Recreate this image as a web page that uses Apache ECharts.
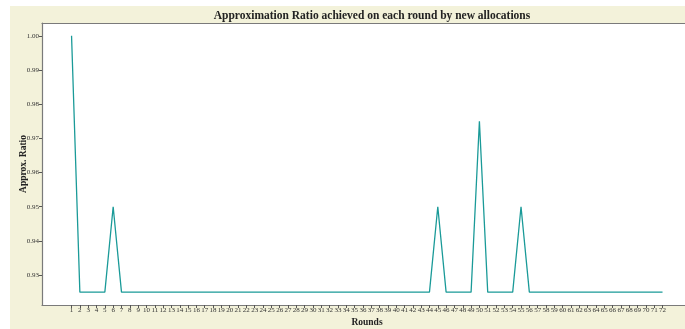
<!DOCTYPE html>
<html>
<head>
<meta charset="utf-8">
<script src="https://cdn.jsdelivr.net/npm/echarts@6/dist/echarts.min.js"></script>
<style>
html,body{margin:0;padding:0;background:#fff;}
#c{width:685px;height:329px;}
</style>
</head>
<body>
<div id="c"></div>
<script>
const rounds = Array.from({length: 72}, (_, i) => i + 1);
const ratios = [
  1.000, 0.925, 0.925, 0.925, 0.925, 0.950, 0.925, 0.925, 0.925, 0.925,
  0.925, 0.925, 0.925, 0.925, 0.925, 0.925, 0.925, 0.925, 0.925, 0.925,
  0.925, 0.925, 0.925, 0.925, 0.925, 0.925, 0.925, 0.925, 0.925, 0.925,
  0.925, 0.925, 0.925, 0.925, 0.925, 0.925, 0.925, 0.925, 0.925, 0.925,
  0.925, 0.925, 0.925, 0.925, 0.950, 0.925, 0.925, 0.925, 0.925, 0.975,
  0.925, 0.925, 0.925, 0.925, 0.950, 0.925, 0.925, 0.925, 0.925, 0.925,
  0.925, 0.925, 0.925, 0.925, 0.925, 0.925, 0.925, 0.925, 0.925, 0.925,
  0.925, 0.925
];
const yTicks = [0.93, 0.94, 0.95, 0.96, 0.97, 0.98, 0.99, 1.00];
const titleText = 'Approximation Ratio achieved on each round by new allocations';

const serif = "'Liberation Serif', 'DejaVu Serif', serif";
const xMin = -2.55, xMax = 74.7;
const chart = echarts.init(document.getElementById('c'), null, {renderer: 'canvas'});
chart.setOption({
  backgroundColor: '#ffffff',
  animation: false,
  graphic: [{
    type: 'rect', z: -10, silent: true,
    shape: {x: 10, y: 6, width: 700, height: 340},
    style: {fill: '#f3f2da'}
  }],
  title: {
    text: titleText,
    left: 367, top: 5, textAlign: 'center',
    textStyle: {fontFamily: serif, fontWeight: 'bold', fontSize: 11.5, color: '#222'}
  },
  grid: {
    left: 42, top: 23, right: 0, height: 282,
    show: true, backgroundColor: '#ffffff', borderWidth: 0,
    containLabel: false, outerBoundsMode: 'none'
  },
  xAxis: [{
    type: 'value', min: xMin, max: xMax,
    name: 'Rounds', nameLocation: 'start', nameGap: -325, nameRotate: 0, nameMoveOverlap: false,
    nameTextStyle: {fontFamily: serif, fontWeight: 'bold', fontSize: 9.5, color: '#222',
      align: 'center', verticalAlign: 'top', padding: [13, 0, 0, 0]},
    splitLine: {show: false},
    axisLine: {show: true, onZero: false, lineStyle: {color: '#7a7a7a', width: 1.2}},
    axisTick: {show: true, length: 3, customValues: rounds, lineStyle: {color: '#555'}},
    axisLabel: {customValues: rounds, fontFamily: serif, fontSize: 7, color: '#333', margin: 2}
  }, {
    type: 'value', min: xMin, max: xMax, position: 'top',
    splitLine: {show: false},
    axisLine: {show: true, onZero: false, lineStyle: {color: '#7a7a7a', width: 1.2}},
    axisTick: {show: false}, axisLabel: {show: false}
  }],
  yAxis: {
    type: 'value', min: 0.92125, max: 1.00375,
    name: 'Approx. Ratio', nameLocation: 'middle', nameGap: 13, nameMoveOverlap: false,
    nameTextStyle: {fontFamily: serif, fontWeight: 'bold', fontSize: 9.5, color: '#222'},
    splitLine: {show: false},
    axisLine: {show: true, onZero: false, lineStyle: {color: '#7a7a7a', width: 1.2}},
    axisTick: {show: true, length: 3, customValues: yTicks, lineStyle: {color: '#555'}},
    axisLabel: {customValues: yTicks, fontFamily: serif, fontSize: 7, color: '#333', margin: 3,
      formatter: v => v.toFixed(2)}
  },
  series: [{
    type: 'line',
    xAxisIndex: 0,
    data: rounds.map((r, i) => [r, ratios[i]]),
    showSymbol: false, symbol: 'none',
    lineStyle: {color: '#1a9a98', width: 1.3},
    clip: true
  }]
});
</script>
</body>
</html>
